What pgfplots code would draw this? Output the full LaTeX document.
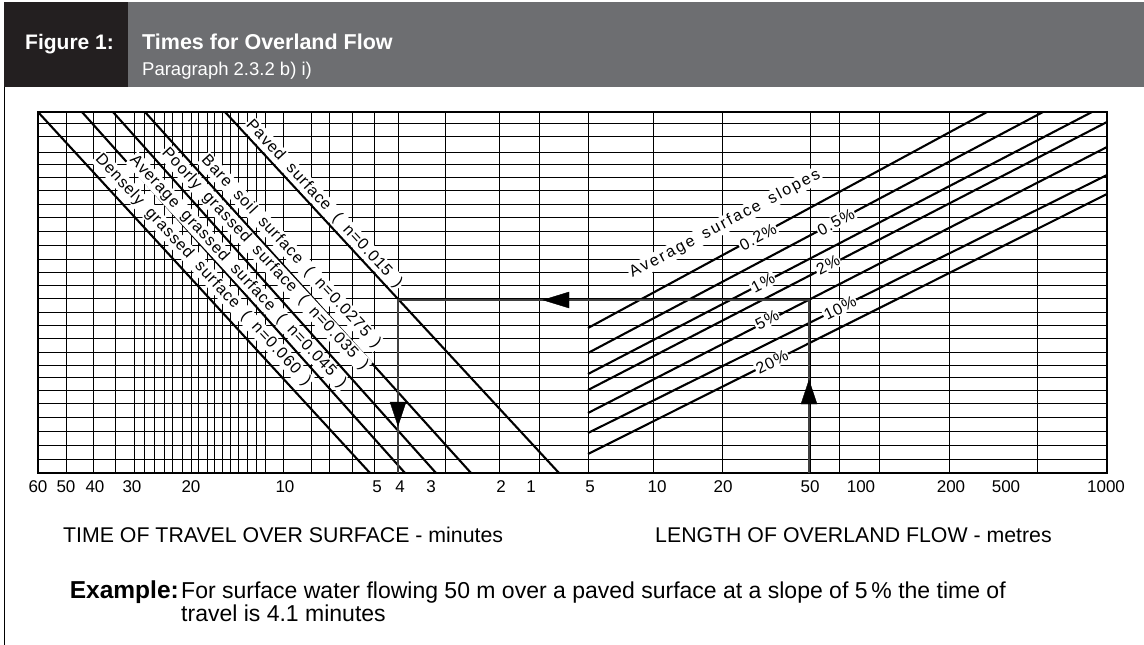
\documentclass[border=0pt]{standalone}
\usepackage{pgfplots}
\pgfplotsset{compat=1.18}
\usepackage{fontspec}
\setmainfont{Liberation Sans}
\newfontfamily\spaced[LetterSpace=6]{Liberation Sans}
\newfontfamily\wide[LetterSpace=13]{Liberation Sans}
\definecolor{hdark}{HTML}{231F20}
\definecolor{hgray}{HTML}{6D6E71}
\newcommand{\fs}[1]{\fontsize{#1}{#1}\selectfont}
\newcommand{\g}{\hspace{10pt}}
\tikzset{
  diag/.style={black, line width=2.1pt},
  ex/.style={black!75, line width=2.4pt, line join=miter},
  lbl/.style={fill=white, inner sep=1.2pt, font=\spaced\fs{16}},
}
\begin{document}
\begin{tikzpicture}
\begin{axis}[
  width=1069pt, height=361pt, scale only axis,
  xmin=38, xmax=1107, ymin=112, ymax=473, y dir=reverse,
  clip=false,
  axis line style={black, line width=1.2pt},
  xtick={38,66,95,132,191,285,377,400,431,501,531,590,657,723,810,861,951,1006,1106},
  xticklabels={60,50,40,30,20,10,5,4,3,2,1,5,10,20,50,100,200,500,1000},
  xticklabel style={font=\fs{17}, yshift=-4pt},
  major tick length=0pt,
  ytick={123,136,152,164,177,190,204,217,231,245,259,272,285,298,312,325,338,352,365,377,390,403,417,431,445,459},
  yticklabels={},
  ymajorgrids=true,
  extra x ticks={66,93,115,134,144,154,164,172,182,191,198,207,214,222,230,238,247,256,265,283,311,329,352,374,398,445,499,539,588,653,722,810,839,879,949,1037},
  extra x tick labels={},
  extra x tick style={grid=major},
  major grid style={black, line width=0.8pt},
  /pgf/number format/assume math mode=true,
]
% header
\addplot[draw=none, fill=hgray] coordinates {(4,2) (1144,2) (1144,87) (4,87)} --cycle;
\addplot[draw=none, fill=hdark] coordinates {(4,2) (128,2) (128,87) (4,87)} --cycle;
\addplot[black, line width=1pt] coordinates {(4.5,87) (4.5,645)};
\node[anchor=base west, inner sep=0, text=white, font=\bfseries\fs{21}] at (axis cs:25,49) {Figure 1:};
\node[anchor=base west, inner sep=0, text=white, font=\bfseries\fs{21.5}] at (axis cs:142,49) {Times for Overland Flow};
\node[anchor=base west, inner sep=0, text=white, font=\fs{18.5}] at (axis cs:142,75) {Paragraph 2.3.2 b) i)};
% surface lines (time of travel)
\addplot[diag] coordinates {(38,112) (370,473)};
\addplot[diag] coordinates {(82,112) (405,473)};
\addplot[diag] coordinates {(113,112) (436,473)};
\addplot[diag] coordinates {(145,112) (471,473)};
\addplot[diag] coordinates {(225,112) (559,473)};
% slope lines (length of overland flow)
\addplot[diag] coordinates {(588,328) (987,112)};
\addplot[diag] coordinates {(588,353) (1043,112)};
\addplot[diag] coordinates {(588,374) (1092,112)};
\addplot[diag] coordinates {(588,390) (1107,122)};
\addplot[diag] coordinates {(588,413) (1107,147)};
\addplot[diag] coordinates {(588,433) (1107,175)};
\addplot[diag] coordinates {(588,454) (1107,194)};
% example path
\addplot[ex] coordinates {(809,473) (809,300) (398,300) (398,473)};
\addplot[fill=black, draw=black] coordinates {(543,300) (569,292) (569,308)} --cycle;
\addplot[fill=black, draw=black] coordinates {(398,426) (390,402) (406,402)} --cycle;
\addplot[fill=black, draw=black] coordinates {(809,380) (801,404) (817,404)} --cycle;
% labels on surface lines
\node[lbl, rotate=-47.2] at (axis cs:203,270) {Densely\g grassed\g surface\g (\g n=0.060\g )};
\node[lbl, rotate=-47.2] at (axis cs:238,272) {Average\g grassed\g surface\g (\g n=0.045\g )};
\node[lbl, rotate=-47.2] at (axis cs:265,259) {Poorly\g grassed\g surface\g (\g n=0.035\g )};
\node[lbl, rotate=-47.2] at (axis cs:291,252) {Bare\g soil\g surface\g (\g n=0.0275\g )};
\node[lbl, rotate=-47.2] at (axis cs:324,204) {Paved\g surface\g (\g n=0.015\g )};
% labels on slope lines
\node[lbl, font=\wide\fs{16}, rotate=28] at (axis cs:725,224) {Average\g surface\g slopes};
\node[lbl, rotate=28.4] at (axis cs:758,237) {0.2\%};
\node[lbl, rotate=27.9] at (axis cs:836,222) {0.5\%};
\node[lbl, rotate=27.5] at (axis cs:763,283) {1\%};
\node[lbl, rotate=27.3] at (axis cs:828,265) {2\%};
\node[lbl, rotate=27.1] at (axis cs:767,320) {5\%};
\node[lbl, rotate=26.4] at (axis cs:840,308) {10\%};
\node[lbl, rotate=26.6] at (axis cs:772,362) {20\%};
% top frame redrawn over the labels
\addplot[black, line width=1.2pt] coordinates {(38,112) (1107,112)};
% axis titles and example text
\node[anchor=base west, inner sep=0, font=\fs{21.3}] at (axis cs:63,542) {TIME OF TRAVEL OVER SURFACE - minutes};
\node[anchor=base west, inner sep=0, font=\fs{21.3}] at (axis cs:655,542) {LENGTH OF OVERLAND FLOW - metres};
\node[anchor=base east, inner sep=0, font=\bfseries\fs{24.5}] at (axis cs:179,598) {Example:};
\node[anchor=base west, inner sep=0, font=\fs{23}] at (axis cs:181,598) {For surface water flowing 50 m over a paved surface at a slope of 5\,\% the time of};
\node[anchor=base west, inner sep=0, font=\fs{23}] at (axis cs:181,621) {travel is 4.1 minutes};
\coordinate (TL) at (axis cs:0,0);
\coordinate (BR) at (axis cs:1144,645);
\end{axis}
\pgfresetboundingbox
\useasboundingbox (TL) rectangle (BR);
\end{tikzpicture}
\end{document}
